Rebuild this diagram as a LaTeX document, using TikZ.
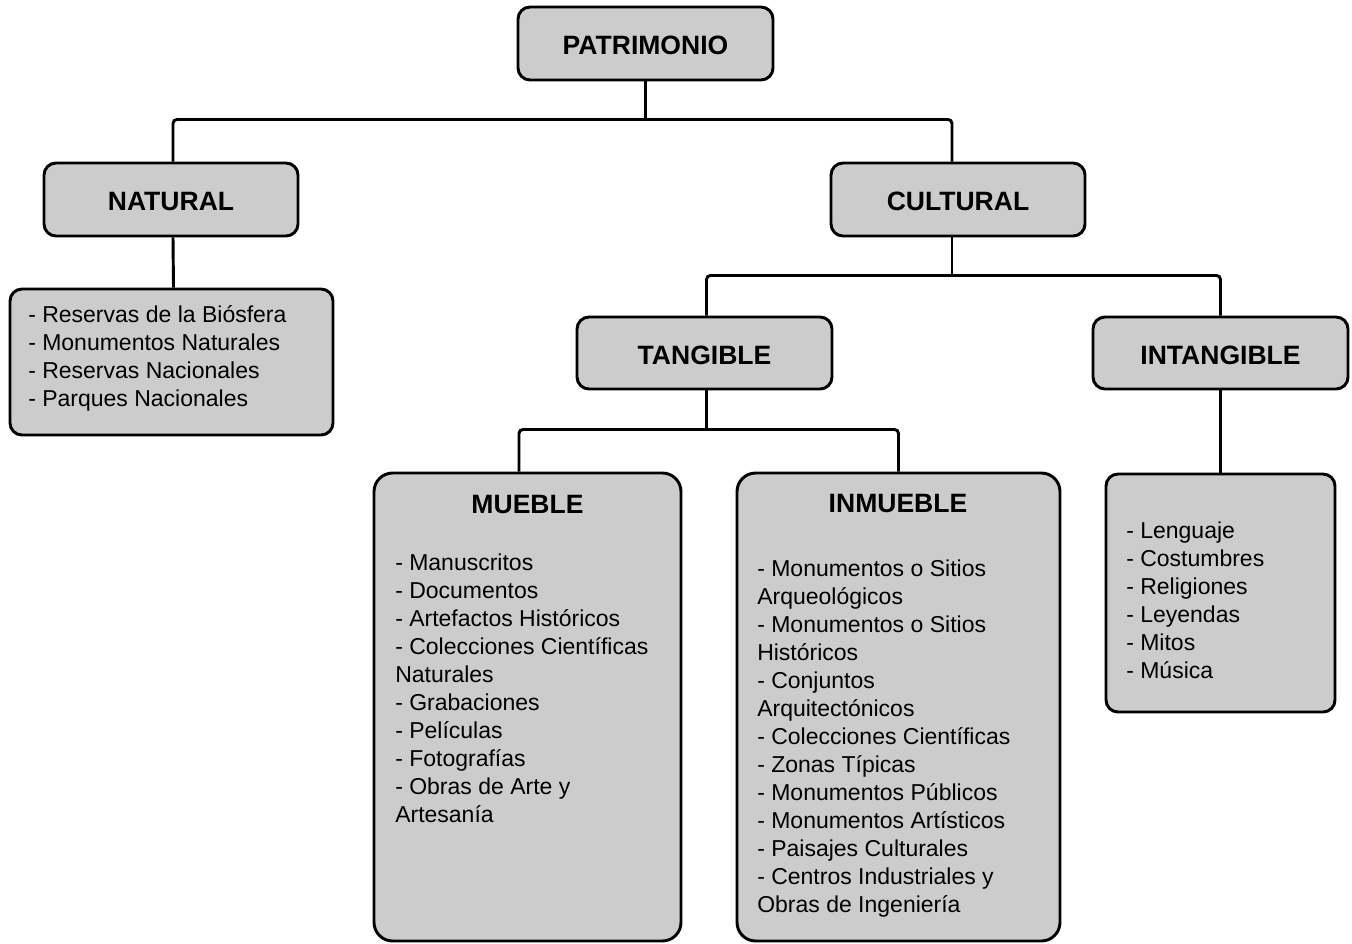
\documentclass[tikz,border=0pt]{standalone}
\usepackage{fontspec}
\setmainfont{Liberation Sans}
\definecolor{boxgray}{RGB}{204,204,204}
\newcommand{\ttl}{\fontsize{19.9pt}{24pt}\selectfont\bfseries}
\newcommand{\reg}{\fontsize{17.25pt}{21pt}\selectfont}
\newcommand{\fl}{\rule{0pt}{17pt}}
\newcommand{\lowr}[1]{\raisebox{-1.5pt}[\height][0pt]{#1}}
\tikzset{
  box/.style={draw=black, line width=2.2pt, fill=boxgray, rounded corners=9pt, inner sep=0pt},
  bigbox/.style={box, rounded corners=14pt},
  sz/.style 2 args={minimum width=#1*0.75pt, minimum height=#2*0.75pt},
  conn/.style={draw=black, line width=2.2pt, rounded corners=3pt},
  lst/.style={anchor=north west, inner sep=0pt, align=left, font=\reg},
  ttlnode/.style={inner sep=0pt, font=\ttl}
}
\begin{document}
\begin{tikzpicture}[x=0.75pt,y=-0.75pt]
\useasboundingbox (0,0) rectangle (1352,943);
% boxes
\node[box, sz={255}{73}, font=\ttl] (pat) at (645.5,43.5) {\lowr{PATRIMONIO}};
\node[box, sz={254}{73}, font=\ttl] (nat) at (171,199.5) {\lowr{NATURAL}};
\node[box, sz={254}{73}, font=\ttl] (cul) at (958,199.5) {\lowr{CULTURAL}};
\node[box, sz={323}{146}] (natl) at (171.5,362) {};
\node[box, sz={255}{72}, font=\ttl] (tan) at (704.5,353) {\lowr{TANGIBLE}};
\node[box, sz={255}{72}, font=\ttl] (intg) at (1220.5,353) {\lowr{INTANGIBLE}};
\node[bigbox, sz={307}{468}] (mue) at (527.5,707) {};
\node[bigbox, sz={323}{468}] (inm) at (898.5,707) {};
\node[box, sz={229}{238}] (intl) at (1220.5,593) {};
% connectors
\coordinate (j1) at ([yshift=-28.5pt]pat.south);
\draw[conn] (pat.south) -- (j1);
\draw[conn] ([xshift=1.5pt]nat.north) |- (j1) -| ([xshift=-4.5pt]cul.north);
\coordinate (j2) at ([xshift=-4.5pt,yshift=-28.5pt]cul.south);
\draw[conn] ([xshift=-4.5pt]cul.south) -- (j2);
\draw[conn] ([xshift=1.5pt]tan.north) |- (j2) -| (intg.north);
\coordinate (j3) at ([xshift=1.5pt,yshift=-29.25pt]tan.south);
\draw[conn] ([xshift=1.5pt]tan.south) -- (j3);
\draw[conn] ([xshift=-6.4pt]mue.north) |- (j3) -| (inm.north);
\draw[conn] ([xshift=1.5pt]nat.south) -- ([xshift=1.5pt]natl.north);
\draw[conn] (intg.south) -- (intl.north);
% texts
\node[lst] (natt) at (28,299.3) {\fl- Reservas de la Biósfera\\- Monumentos Naturales\\- Reservas Nacionales\\- Parques Nacionales};
\node[ttlnode] (muet) at (527.5,504) {MUEBLE};
\node[lst] (muel) at (395,547.3) {\fl- Manuscritos\\- Documentos\\- Artefactos Históricos\\- Colecciones Científicas\\Naturales\\- Grabaciones\\- Películas\\- Fotografías\\- Obras de Arte y\\Artesanía};
\node[ttlnode] (inmt) at (898,503) {INMUEBLE};
\node[lst] (inml) at (757,553.3) {\fl- Monumentos o Sitios\\Arqueológicos\\- Monumentos o Sitios\\Históricos\\- Conjuntos\\Arquitectónicos\\- Colecciones Científicas\\- Zonas Típicas\\- Monumentos Públicos\\- Monumentos Artísticos\\- Paisajes Culturales\\- Centros Industriales y\\Obras de Ingeniería};
\node[lst] (intt) at (1126,515.3) {\fl- Lenguaje\\- Costumbres\\- Religiones\\- Leyendas\\- Mitos\\- Música};
\end{tikzpicture}
\end{document}
